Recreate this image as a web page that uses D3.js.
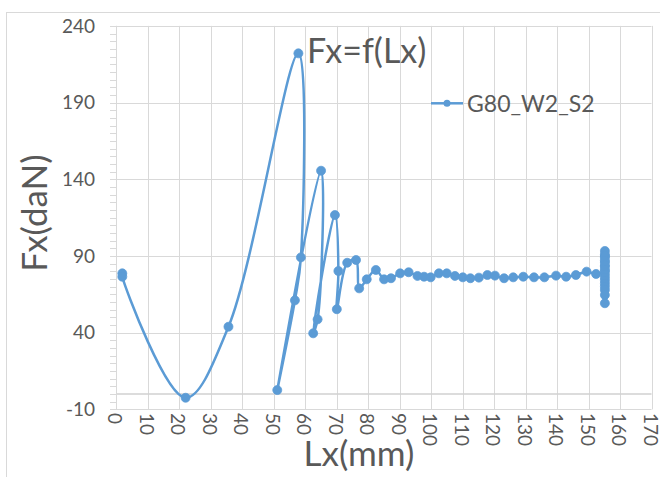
<!DOCTYPE html>
<html>
<head>
<meta charset="utf-8">
<script src="https://cdn.jsdelivr.net/npm/d3@7/dist/d3.min.js"></script>
<style>
  html, body { margin: 0; padding: 0; background: #fff; }
  svg { display: block; }
  text { font-family: Lato, "Open Sans", "DejaVu Sans", sans-serif; fill: #595959; }
</style>
</head>
<body>
<div id="chart"></div>
<script>
// ---- data ----
const seriesName = "G80_W2_S2";
const chartTitle = "Fx=f(Lx)";
const xTitle = "Lx(mm)";
const yTitle = "Fx(daN)";
const lx = [2, 2, 22.1, 35.7, 57.9, 58.7, 56.8, 51.2, 65.1, 64.0, 62.6, 69.5, 70.6, 70.1,
  73.4, 76.2, 77.2, 79.6, 82.5, 85.1, 87.3, 90.2, 92.9, 95.7, 97.8, 99.9, 102.5, 105.0,
  107.6, 110.1, 112.5, 115.2, 117.9, 120.3, 123.2, 126.1, 129.3, 132.7, 136.0, 139.7,
  142.9, 146.0, 149.4, 152.4,
  155.2, 155.2, 155.2, 155.2, 155.2, 155.2, 155.2, 155.2, 155.2, 155.2, 155.2, 155.2,
  155.2, 155.2, 155.2, 155.2, 155.2, 155.2];
const fx = [78.7, 76.5, -2.4, 43.9, 222.1, 89.1, 61.1, 2.6, 145.6, 48.7, 39.6, 116.7, 80.2, 55.3,
  85.6, 87.4, 68.9, 74.8, 80.9, 74.8, 75.5, 78.7, 79.4, 77.0, 76.5, 76.1, 78.7, 78.7,
  77.0, 76.1, 75.5, 75.9, 77.6, 77.2, 75.5, 76.1, 76.5, 76.1, 76.1, 77.2,
  76.5, 77.6, 79.8, 78.3,
  80, 83, 86, 89, 91, 93.3, 90, 87, 84, 81, 78, 76, 74, 72, 70, 67.8, 64.6, 59.2];
const xTicks = d3.range(0, 171, 10);
const yTicks = [-10, 40, 90, 140, 190, 240];
const yMinorTicks = d3.range(-10, 241, 5);

const W = 660, H = 477;
const color = "#5b9bd5";
const svg = d3.select("#chart").append("svg").attr("width", W).attr("height", H);

// chart area border
svg.append("rect").attr("x", 6.5).attr("y", 12.5).attr("width", 700).attr("height", 500)
  .attr("fill", "#fff").attr("stroke", "#d9d9d9").attr("stroke-width", 1);

const x = d3.scaleLinear().domain([0, 170]).range([116, 651.5]);
const y = d3.scaleLinear().domain([-10, 240]).range([409.4, 25.9]);

// gridlines
const g = svg.append("g");
g.selectAll("line.vg").data(xTicks).join("line")
  .attr("x1", d => Math.round(x(d)) + 0.5).attr("x2", d => Math.round(x(d)) + 0.5)
  .attr("y1", y(240)).attr("y2", y(-10))
  .attr("stroke", "#d9d9d9").attr("stroke-width", 1);
g.selectAll("line.hg").data(yTicks).join("line")
  .attr("x1", x(0)).attr("x2", x(170))
  .attr("y1", d => Math.round(y(d)) + 0.5).attr("y2", d => Math.round(y(d)) + 0.5)
  .attr("stroke", "#d9d9d9").attr("stroke-width", 1);

// horizontal axis line at Fx = 0
g.append("line").attr("x1", x(0)).attr("x2", x(170))
  .attr("y1", y(0)).attr("y2", y(0)).attr("stroke", "#d0d0d0").attr("stroke-width", 1.5);

// vertical axis line + minor ticks
g.append("line").attr("x1", Math.round(x(0)) + 0.5).attr("x2", Math.round(x(0)) + 0.5)
  .attr("y1", y(240)).attr("y2", y(-10)).attr("stroke", "#d9d9d9");
g.selectAll("line.mt").data(yMinorTicks).join("line")
  .attr("x1", x(0) - 6).attr("x2", x(0))
  .attr("y1", d => Math.round(y(d)) + 0.5).attr("y2", d => Math.round(y(d)) + 0.5)
  .attr("stroke", "#d9d9d9");

// y tick labels
svg.selectAll("text.yl").data(yTicks).join("text")
  .attr("x", 95).attr("y", d => y(d)).attr("dy", "0.35em")
  .attr("text-anchor", "end").style("font-size", "19px").text(d => d);

// x tick labels (rotated)
svg.selectAll("text.xl").data(xTicks).join("text")
  .attr("transform", d => `translate(${x(d) - 1},413) rotate(90)`)
  .attr("dy", "0.35em").attr("text-anchor", "start")
  .style("font-size", "19px").text(d => d);

// axis titles
svg.append("text").attr("transform", "translate(47,213) rotate(-90)")
  .attr("text-anchor", "middle").style("font-size", "35px").text(yTitle);
svg.append("text").attr("x", 359).attr("y", 466)
  .attr("text-anchor", "middle").style("font-size", "35px").text(xTitle);

// series
const pts = lx.map((v, i) => [v, fx[i]]);
const line = d3.line().x(d => x(d[0])).y(d => y(d[1])).curve(d3.curveCatmullRom.alpha(0.5));
svg.append("path").attr("d", line(pts)).attr("fill", "none")
  .attr("stroke", color).attr("stroke-width", 2.5).attr("stroke-linejoin", "round");
svg.selectAll("circle.pt").data(pts).join("circle")
  .attr("cx", d => x(d[0])).attr("cy", d => y(d[1])).attr("r", 4.5)
  .attr("fill", color).attr("stroke", color).attr("stroke-width", 0.75);

// chart title
svg.append("text").attr("x", 307).attr("y", 63.3).style("font-size", "34px").text(chartTitle);

// legend
svg.append("line").attr("x1", 431).attr("x2", 463).attr("y1", 103.3).attr("y2", 103.3)
  .attr("stroke", color).attr("stroke-width", 2.5);
svg.append("circle").attr("cx", 447).attr("cy", 103.3).attr("r", 3.5).attr("fill", color);
svg.append("text").attr("x", 467).attr("y", 111.5).style("font-size", "23px").text(seriesName);
</script>
</body>
</html>
